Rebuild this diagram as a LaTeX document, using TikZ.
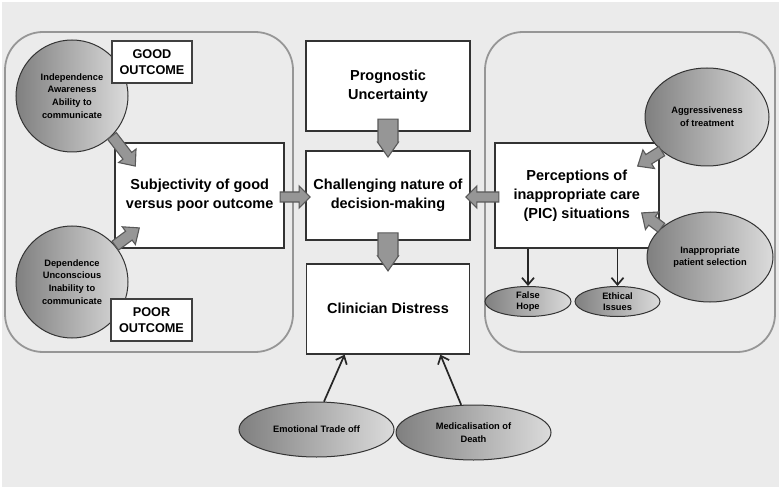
\documentclass[tikz,border=0pt]{standalone}
\usepackage{fontspec}
\setmainfont{Liberation Sans}
\usetikzlibrary{positioning, calc, shapes.geometric, arrows.meta}
\definecolor{panelbg}{RGB}{235, 235, 235}
\definecolor{panelline}{RGB}{150, 150, 150}
\definecolor{arrfill}{RGB}{150, 150, 150}
\tikzset{
    mainbox/.style={draw=black!80, line width=1.8pt, fill=white, align=center, inner sep=2pt, font=\bfseries\fontsize{14.5}{19}\selectfont},
    tagbox/.style={draw=black!75, line width=1.4pt, fill=white, align=center, font=\bfseries\fontsize{12.7}{16.5}\selectfont},
    factor/.style={ellipse, draw=black!80, line width=1pt, left color=black!50, right color=black!14, align=center, inner sep=0pt, font=\bfseries\fontsize{9.3}{12.8}\selectfont},
    panel/.style={draw=panelline, line width=1.8pt, rounded corners=38pt},
    blockarr/.style={draw=black!65, line width=1.1pt, fill=arrfill},
    thinarr/.style={-{Straight Barb[length=7pt, width=12pt]}, line width=1.7pt, draw=black!85}
}
% tail, head, shaft half width, head half width, head length
\newcommand{\blockarrow}[5]{%
    \draw[blockarr] let \p1=($(#2)-(#1)$), \n1={atan2(\y1,\x1)}, \n2={veclen(\x1,\y1)} in
        [shift={(#1)}, rotate=\n1]
        (0pt,#3pt) -- ({\n2-#5pt},#3pt) -- ({\n2-#5pt},#4pt) -- ({\n2*1pt},0pt)
        -- ({\n2-#5pt},-#4pt) -- ({\n2-#5pt},-#3pt) -- (0pt,-#3pt) -- cycle;}

\begin{document}
\begin{tikzpicture}[x=1pt, y=-1pt]
    \useasboundingbox (0,0) rectangle (784,489);
    \fill[panelbg] (2,2) rectangle (779,487);
    % side panels
    \draw[panel] (5,32) rectangle (293,352);
    \draw[panel] (485,32) rectangle (775,352);

    % centre column
    \node[mainbox, minimum width=164pt, minimum height=89pt] (chal) at (388,195.5) {Challenging nature of\\decision-making};
    \node[mainbox, minimum width=164pt, minimum height=90pt, above=18pt of chal] (prog) {Prognostic\\Uncertainty};
    \node[mainbox, minimum width=163pt, minimum height=90pt, below=22pt of chal] (clin) {Clinician Distress};

    % left panel
    \node[mainbox, minimum width=169pt, minimum height=105pt, left=20pt of chal] (subj) {Subjectivity of good\\versus poor outcome};
    \node[factor, circle, minimum size=112pt] (goodc) at (72,96) {Independence\\Awareness\\Ability to\\communicate};
    \node[tagbox, minimum width=80pt, minimum height=42pt] (good) at (152,62) {GOOD\\OUTCOME};
    \node[factor, circle, minimum size=112pt] (poorc) at (72,282) {Dependence\\Unconscious\\Inability to\\communicate};
    \node[tagbox, minimum width=81pt, minimum height=42pt] (poor) at (151.5,320) {POOR\\OUTCOME};

    % right panel
    \node[mainbox, minimum width=164pt, minimum height=105pt, right=23pt of chal] (pic) {Perceptions of\\inappropriate care\\(PIC) situations};
    \node[factor, minimum width=124pt, minimum height=98pt] (aggr) at (707,117) {Aggressiveness\\of treatment};
    \node[factor, minimum width=126pt, minimum height=90pt] (inap) at (710,257) {Inappropriate\\patient selection};
    \node[factor, minimum width=86pt, minimum height=30pt, font=\bfseries\fontsize{9.3}{11}\selectfont] (hope) at (528,301.5) {False\\Hope};
    \node[factor, minimum width=85pt, minimum height=30pt, font=\bfseries\fontsize{9.3}{11}\selectfont] (ethic) at (617.5,301.5) {Ethical\\Issues};

    % bottom
    \node[factor, minimum width=155pt, minimum height=55pt] (emot) at (316.5,429.5) {Emotional Trade off};
    \node[factor, minimum width=155pt, minimum height=55pt] (medic) at (473.5,432.5) {Medicalisation of\\Death};

    % arrow ends
    \coordinate (t1) at (goodc.-45);
    \coordinate (h1) at ($(subj.north west)+(21,24)$);
    \coordinate (t2) at (poorc.40);
    \coordinate (h2) at ($(subj.south west)+(25,-21)$);
    \coordinate (t3) at ($(subj.east)+(-5,1.5)$);
    \coordinate (h3) at ($(chal.west)+(5,1.5)$);
    \coordinate (t4) at ($(pic.west)+(5,1.5)$);
    \coordinate (h4) at ($(chal.east)+(-5,1.5)$);
    \coordinate (t5) at ($(prog.south)+(0,-13)$);
    \coordinate (h5) at ($(chal.north)+(0,7)$);
    \coordinate (t6) at ($(chal.south)+(0,-8)$);
    \coordinate (h6) at ($(clin.north)+(0,8)$);
    \coordinate (t7) at (aggr.217);
    \coordinate (h7) at ($(pic.north east)+(-22,24)$);
    \coordinate (t8) at (inap.149);
    \coordinate (h8) at ($(pic.south east)+(-18,-36)$);
    \coordinate (c1) at ($(clin.south west)+(39,0)$);
    \coordinate (c2) at ($(clin.south east)+(-30,0)$);

    \blockarrow{t1}{h1}{5.5}{11}{13}
    \blockarrow{t2}{h2}{5.5}{11}{13}
    \blockarrow{t3}{h3}{5}{11}{11}
    \blockarrow{t4}{h4}{5}{11}{11}
    \blockarrow{t5}{h5}{10}{10.5}{15}
    \blockarrow{t6}{h6}{10}{10.5}{15}
    \blockarrow{t7}{h7}{5.5}{11}{13}
    \blockarrow{t8}{h8}{5.5}{11}{13}

    \draw[thinarr] (hope.north |- pic.south) -- (hope.north);
    \draw[thinarr] (ethic.north |- pic.south) -- (ethic.north);
    \draw[thinarr] (emot.75) -- (c1);
    \draw[thinarr] (medic.114) -- (c2);
\end{tikzpicture}
\end{document}
